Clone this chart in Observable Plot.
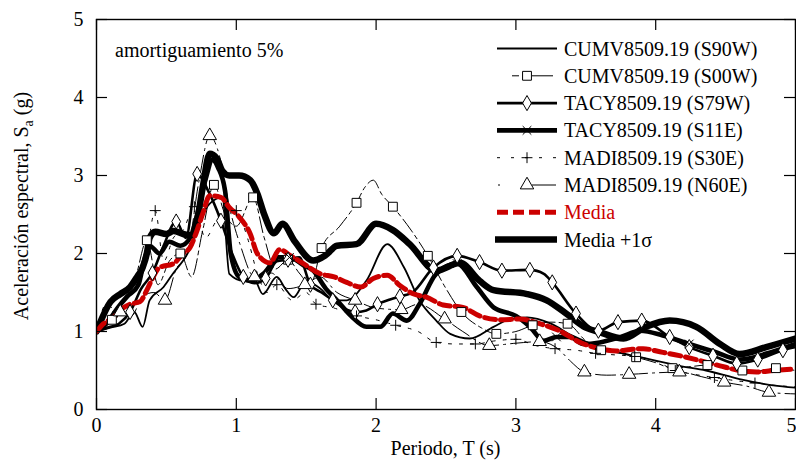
<!DOCTYPE html>
<html><head><meta charset="utf-8">
<script src="https://cdn.jsdelivr.net/npm/d3@7"></script>
<script src="https://cdn.jsdelivr.net/npm/@observablehq/plot@0.6"></script>
<style>
html,body{margin:0;padding:0;background:#fff;}
#chart{width:796px;height:461px;overflow:hidden;}
</style></head><body><div id="chart"></div>
<script>
// ---------------- data ----------------
const xTicks = [0, 1, 2, 3, 4, 5];
const yTicks = [0, 1, 2, 3, 4, 5];
const seriesNames = ["CUMV8509.19 (S90W)", "CUMV8509.19 (S00W)", "TACY8509.19 (S79W)", "TACY8509.19 (S11E)",
  "MADI8509.19 (S30E)", "MADI8509.19 (N60E)", "Media", "Media +1σ"];
const annotation = "amortiguamiento 5%";
const xLabel = "Periodo, T (s)";

const T_S90W = [0, 0.1, 0.2, 0.27, 0.33, 0.38, 0.48, 0.55, 0.62, 0.68, 0.74, 0.81, 0.9, 0.95, 1.05, 1.12, 1.19, 1.29, 1.35, 1.41, 1.5, 1.6, 1.7, 1.79, 1.93, 2.08, 2.2, 2.31, 2.43, 2.53, 2.67, 2.84, 2.96, 3.08, 3.25, 3.4, 3.6, 3.89, 4.17, 4.36, 4.6, 4.84, 5.0];
const SA_S90W = [1.0, 1.05, 1.1, 1.25, 1.06, 1.4, 1.57, 1.75, 1.91, 2.1, 2.42, 2.64, 2.72, 1.74, 1.65, 1.7, 1.48, 1.7, 1.55, 1.44, 1.65, 1.55, 1.4, 1.4, 1.65, 2.12, 1.82, 1.4, 1.14, 0.97, 0.91, 1.06, 1.16, 1.18, 1.1, 0.95, 0.8, 0.67, 0.56, 0.5, 0.39, 0.31, 0.28];

const T_S00W = [0, 0.05, 0.11, 0.2, 0.28, 0.36, 0.44, 0.52, 0.6, 0.68, 0.76, 0.84, 0.92, 1.0, 1.12, 1.2, 1.28, 1.37, 1.45, 1.53, 1.61, 1.74, 1.86, 1.92, 1.98, 2.04, 2.12, 2.25, 2.37, 2.5, 2.61, 2.75, 2.86, 3.0, 3.12, 3.25, 3.37, 3.5, 3.61, 3.75, 3.86, 4.0, 4.12, 4.25, 4.37, 4.5, 4.62, 4.75, 4.86, 5.0];
const SA_S00W = [1.0, 1.05, 1.15, 1.4, 1.7, 2.17, 1.6, 1.9, 2.0, 1.7, 2.3, 2.88, 2.5, 2.35, 2.72, 2.2, 1.8, 1.92, 1.75, 1.6, 2.07, 2.35, 2.65, 2.85, 2.94, 2.76, 2.6, 2.3, 1.97, 1.55, 1.25, 1.05, 0.97, 1.0, 1.08, 1.12, 1.1, 0.88, 0.76, 0.72, 0.67, 0.6, 0.53, 0.55, 0.57, 0.53, 0.5, 0.5, 0.53, 0.5];
const MK_S00W = [0.11, 0.36, 0.6, 0.84, 1.12, 1.37, 1.61, 1.86, 2.12, 2.37, 2.61, 2.86, 3.12, 3.37, 3.61, 3.86, 4.12, 4.37, 4.62, 4.86];

const T_S79W = [0, 0.08, 0.16, 0.24, 0.32, 0.40, 0.48, 0.57, 0.64, 0.72, 0.8, 0.89, 0.97, 1.05, 1.13, 1.21, 1.29, 1.37, 1.45, 1.53, 1.61, 1.69, 1.77, 1.85, 1.93, 2.01, 2.1, 2.17, 2.26, 2.41, 2.58, 2.74, 2.9, 3.1, 3.2, 3.26, 3.43, 3.59, 3.73, 3.9, 4.1, 4.24, 4.41, 4.58, 4.73, 4.91, 5.0];
const SA_S79W = [1.0, 1.05, 1.1, 1.25, 1.55, 1.75, 2.1, 2.41, 2.2, 3.02, 2.8, 2.42, 2.0, 1.7, 1.62, 1.68, 1.9, 1.92, 1.95, 1.6, 1.5, 1.4, 1.3, 1.25, 1.27, 1.35, 1.41, 1.45, 1.5, 1.82, 1.97, 1.89, 1.78, 1.79, 1.74, 1.63, 1.23, 1.01, 1.12, 1.14, 0.93, 0.8, 0.69, 0.59, 0.64, 0.76, 0.8];
const MK_S79W = [0.24, 0.40, 0.57, 0.72, 0.89, 1.05, 1.21, 1.37, 1.53, 1.69, 1.85, 2.01, 2.17, 2.41, 2.58, 2.74, 2.9, 3.1, 3.26, 3.43, 3.59, 3.73, 3.9, 4.1, 4.24, 4.41, 4.58, 4.73, 4.91];

const T_S11E = [0, 0.08, 0.15, 0.22, 0.3, 0.34, 0.38, 0.45, 0.52, 0.6, 0.67, 0.72, 0.78, 0.83, 0.87, 0.92, 0.96, 1.02, 1.1, 1.2, 1.3, 1.38, 1.48, 1.55, 1.64, 1.72, 1.82, 1.93, 2.03, 2.12, 2.22, 2.31, 2.43, 2.58, 2.72, 2.84, 3.0, 3.1, 3.2, 3.29, 3.39, 3.48, 3.6, 3.75, 3.89, 4.05, 4.24, 4.42, 4.6, 4.8, 5.0];
const SA_S11E = [1.0, 1.12, 1.3, 1.45, 1.6, 1.9, 2.1, 2.0, 2.15, 2.1, 2.2, 2.5, 2.95, 3.2, 3.1, 2.8, 2.0, 1.7, 1.65, 1.75, 1.95, 1.95, 1.85, 1.78, 1.55, 1.4, 1.2, 1.06, 1.06, 1.23, 1.14, 1.35, 1.74, 1.87, 1.57, 1.31, 1.2, 1.06, 0.88, 0.93, 0.93, 0.84, 0.86, 0.93, 1.01, 0.95, 0.84, 0.74, 0.64, 0.72, 0.84];
const MK_S11E = [0.83, 1.38, 2.58, 3.29, 4.24];

const T_S30E = [0, 0.07, 0.15, 0.22, 0.28, 0.35, 0.42, 0.48, 0.55, 0.62, 0.7, 0.78, 0.85, 0.92, 1.0, 1.08, 1.15, 1.22, 1.29, 1.4, 1.5, 1.57, 1.7, 1.86, 2.0, 2.14, 2.3, 2.43, 2.57, 2.71, 2.85, 3.0, 3.14, 3.28, 3.43, 3.57, 3.71, 3.85, 4.0, 4.14, 4.28, 4.42, 4.57, 4.71, 4.85, 5.0];
const SA_S30E = [1.0, 1.35, 1.25, 1.5, 1.6, 1.9, 2.55, 1.9, 2.2, 2.3, 2.6, 2.2, 2.4, 2.6, 2.55, 2.2, 1.75, 1.5, 1.6, 1.4, 1.5, 1.35, 1.3, 1.2, 1.15, 1.08, 1.0, 0.86, 0.84, 0.84, 0.88, 0.9, 0.82, 0.78, 0.76, 0.72, 0.7, 0.68, 0.62, 0.5, 0.45, 0.41, 0.37, 0.34, 0.31, 0.29];
const MK_S30E = [0.15, 0.42, 0.7, 1.0, 1.29, 1.57, 1.86, 2.14, 2.43, 2.71, 3.0, 3.28, 3.57, 3.85, 4.14, 4.42, 4.71];

const T_N60E = [0, 0.08, 0.17, 0.25, 0.33, 0.41, 0.49, 0.57, 0.65, 0.73, 0.81, 0.88, 0.95, 1.03, 1.13, 1.25, 1.37, 1.49, 1.6, 1.72, 1.85, 2.0, 2.18, 2.3, 2.49, 2.62, 2.81, 3.0, 3.17, 3.3, 3.39, 3.49, 3.65, 3.81, 4.0, 4.17, 4.33, 4.49, 4.65, 4.81, 5.0];
const SA_N60E = [1.0, 1.1, 1.25, 1.2, 1.45, 1.5, 1.4, 1.8, 2.0, 2.9, 3.51, 3.25, 2.6, 2.1, 1.7, 1.75, 1.55, 1.6, 1.7, 1.5, 1.4, 1.3, 1.28, 1.35, 1.16, 1.0, 0.82, 0.85, 0.87, 0.78, 0.62, 0.48, 0.44, 0.45, 0.47, 0.48, 0.42, 0.35, 0.3, 0.22, 0.2];
const MK_N60E = [0.17, 0.49, 0.81, 1.13, 1.49, 1.85, 2.18, 2.49, 2.81, 3.17, 3.49, 3.81, 4.17, 4.49, 4.81];

const T_MEDIA = [0, 0.05, 0.12, 0.19, 0.24, 0.31, 0.36, 0.4, 0.45, 0.55, 0.62, 0.67, 0.71, 0.76, 0.81, 0.89, 0.95, 1.02, 1.1, 1.15, 1.24, 1.31, 1.39, 1.48, 1.6, 1.7, 1.79, 1.89, 1.98, 2.08, 2.17, 2.27, 2.36, 2.48, 2.62, 2.74, 2.89, 3.03, 3.17, 3.31, 3.46, 3.6, 3.72, 3.82, 3.91, 4.03, 4.17, 4.31, 4.46, 4.6, 4.72, 4.84, 5.0];
const SA_MEDIA = [1.0, 1.1, 1.18, 1.3, 1.35, 1.38, 1.53, 1.68, 1.82, 1.87, 2.0, 2.08, 2.25, 2.51, 2.74, 2.72, 2.59, 2.47, 2.25, 2.0, 1.88, 2.05, 1.97, 1.87, 1.74, 1.7, 1.63, 1.57, 1.68, 1.72, 1.59, 1.48, 1.44, 1.34, 1.31, 1.2, 1.15, 1.16, 1.1, 1.01, 0.86, 0.78, 0.75, 0.77, 0.78, 0.74, 0.69, 0.63, 0.56, 0.5, 0.48, 0.5, 0.52];

const T_SIGMA = [0, 0.1, 0.17, 0.24, 0.29, 0.33, 0.36, 0.38, 0.42, 0.5, 0.55, 0.62, 0.69, 0.72, 0.76, 0.81, 0.86, 0.9, 0.95, 1.02, 1.1, 1.15, 1.2, 1.27, 1.33, 1.42, 1.55, 1.64, 1.72, 1.86, 2.0, 2.12, 2.24, 2.43, 2.6, 2.74, 2.84, 3.08, 3.22, 3.36, 3.5, 3.6, 3.77, 3.93, 4.1, 4.29, 4.46, 4.6, 4.79, 5.0];
const SA_SIGMA = [1.0, 1.38, 1.48, 1.57, 1.7, 1.82, 2.0, 2.2, 2.28, 2.25, 2.29, 2.25, 2.23, 2.42, 2.85, 3.28, 3.22, 3.06, 3.0, 3.0, 2.94, 2.77, 2.5, 2.26, 2.38, 2.15, 1.91, 1.98, 2.1, 2.12, 2.38, 2.3, 2.12, 1.78, 1.88, 1.65, 1.53, 1.48, 1.4, 1.23, 1.05, 0.99, 0.91, 1.06, 1.14, 1.06, 0.84, 0.71, 0.8, 0.91];

// ---------------- styling ----------------
const RED = "#cc0000";
const FONT = "'Liberation Serif', 'Times New Roman', serif";
const cfg = [
  {T: T_S90W, S: SA_S90W, mk: [], stroke: "#000", sw: 1.8, dash: null, sym: null},
  {T: T_S00W, S: SA_S00W, mk: MK_S00W, stroke: "#000", sw: 1, dash: "16,4,4,4", sym: "square", r: 5},
  {T: T_S79W, S: SA_S79W, mk: MK_S79W, stroke: "#000", sw: 2.6, dash: null, sym: "diamond", r: 4.6},
  {T: T_S11E, S: SA_S11E, mk: MK_S11E, stroke: "#000", sw: 4.6, dash: null, sym: "times", r: 4},
  {T: T_S30E, S: SA_S30E, mk: MK_S30E, stroke: "#000", sw: 1, dash: "3,8", sym: "plus", r: 3.6},
  {T: T_N60E, S: SA_N60E, mk: MK_N60E, stroke: "#000", sw: 1, dash: "20,5,2,5", sym: "triangle", r: 5},
  {T: T_SIGMA, S: SA_SIGMA, mk: [], stroke: "#000", sw: 6.5, dash: null, sym: null},
  {T: T_MEDIA, S: SA_MEDIA, mk: [], stroke: RED, sw: 5, dash: "11,5", sym: null}
];

const W = 796, H = 461, mL = 96, mR = 1, mT = 19, mB = 52;
const innerW = W - mL - mR, innerH = H - mT - mB;
const tick = 11;

const marks = [];
for (const c of cfg) {
  const rows = c.T.map((t, i) => ({T: t, Sa: c.S[i]}));
  marks.push(Plot.line(rows, {x: "T", y: "Sa", stroke: c.stroke, strokeWidth: c.sw,
    strokeDasharray: c.dash, curve: "monotone-x", clip: true, strokeLinejoin: "round"}));
}
for (const c of cfg) {
  if (!c.sym) continue;
  const pts = c.mk.map(t => { let bi = 0; c.T.forEach((v, i) => { if (Math.abs(v - t) < Math.abs(c.T[bi] - t)) bi = i; }); return {T: c.T[bi], Sa: c.S[bi]}; });
  const filled = c.sym === "square" || c.sym === "diamond" || c.sym === "triangle";
  marks.push(Plot.dot(pts, {x: "T", y: "Sa", symbol: c.sym, r: c.r, stroke: "#000", strokeWidth: 1,
    fill: filled ? "#fff" : "none"}));
}

const chart = Plot.plot({
  width: W, height: H,
  marginLeft: mL, marginRight: mR, marginTop: mT, marginBottom: mB,
  x: {domain: [0, 5]},
  y: {domain: [0, 5]},
  style: {fontFamily: FONT, fontSize: "20px", background: "#fff", color: "#000"},
  marks: [
    ...marks,
    Plot.frame({stroke: "#000", strokeWidth: 1.4}),
    Plot.tickX(xTicks, {x: d => d, insetTop: innerH - tick, stroke: "#000", strokeWidth: 1.2}),
    Plot.tickX(xTicks, {x: d => d, insetBottom: innerH - tick, stroke: "#000", strokeWidth: 1.2}),
    Plot.tickY(yTicks, {y: d => d, insetRight: innerW - tick, stroke: "#000", strokeWidth: 1.2}),
    Plot.tickY(yTicks, {y: d => d, insetLeft: innerW - tick, stroke: "#000", strokeWidth: 1.2}),
    Plot.axisX(xTicks.slice(0, -1), {tickSize: 0, tickPadding: 8, label: null, fontSize: 20, tickFormat: d => String(d)}),
    Plot.axisX(xTicks.slice(-1), {tickSize: 0, tickPadding: 8, label: null, fontSize: 20, tickFormat: d => String(d), textAnchor: "end", dx: 1}),
    Plot.axisY(yTicks, {tickSize: 0, tickPadding: 13, label: null, fontSize: 20, tickFormat: d => String(d)})
  ]
});
document.getElementById("chart").appendChild(chart);

// ---------------- labels, annotation and legend ----------------
const svg = d3.select(chart);
const g = svg.append("g").attr("font-family", FONT).attr("font-size", 20).attr("text-anchor", "start").attr("fill", "#000");
g.append("text").attr("x", 115).attr("y", 57).text(annotation);
g.append("text").attr("x", mL + innerW / 2).attr("y", 455).attr("text-anchor", "middle").text(xLabel);
const yl = g.append("text").attr("transform", "translate(28,206) rotate(-90)").attr("text-anchor", "middle");
yl.append("tspan").text("Aceleración espectral, S");
yl.append("tspan").attr("font-size", 14).attr("dy", 5).text("a");
yl.append("tspan").attr("dy", -5).text(" (g)");

const lx0 = 497, lx1 = 557, lmid = 527, ltx = 564, ly0 = 48.5, ldy = 27.3;
const sym = d3.symbol();
const symMap = {square: d3.symbolSquare, diamond: d3.symbolDiamond, times: d3.symbolTimes, plus: d3.symbolPlus, triangle: d3.symbolTriangle};
seriesNames.forEach((name, i) => {
  const c = i === 6 ? cfg[7] : i === 7 ? cfg[6] : cfg[i];
  const y = ly0 + i * ldy;
  const lg = g.append("g");
  if (i === 1) {
    lg.append("line").attr("x1", 512).attr("x2", 519).attr("y1", y).attr("y2", y).attr("stroke", "#000").attr("stroke-width", 1);
    lg.append("line").attr("x1", 532).attr("x2", 553).attr("y1", y).attr("y2", y).attr("stroke", "#000").attr("stroke-width", 1);
  } else if (i === 4) {
    lg.append("line").attr("x1", lx0).attr("x2", lx1).attr("y1", y).attr("y2", y).attr("stroke", "#000").attr("stroke-width", 1).attr("stroke-dasharray", "3,11");
  } else if (i === 5) {
    lg.append("line").attr("x1", 498).attr("x2", 500).attr("y1", y).attr("y2", y).attr("stroke", "#000").attr("stroke-width", 1);
    lg.append("line").attr("x1", 532).attr("x2", 556).attr("y1", y).attr("y2", y).attr("stroke", "#000").attr("stroke-width", 1);
  } else {
    lg.append("line").attr("x1", i === 7 ? 495 : lx0).attr("x2", lx1).attr("y1", y).attr("y2", y)
      .attr("stroke", c.stroke).attr("stroke-width", c.sw).attr("stroke-dasharray", c.dash);
  }
  if (c.sym) {
    const filled = c.sym === "square" || c.sym === "diamond" || c.sym === "triangle";
    lg.append("path").attr("transform", `translate(${lmid},${y})`)
      .attr("d", sym.type(symMap[c.sym]).size(c.r * c.r * Math.PI)())
      .attr("fill", filled ? "#fff" : "none").attr("stroke", "#000").attr("stroke-width", 1);
  }
  lg.append("text").attr("x", ltx).attr("y", y + 7).attr("fill", i === 6 ? RED : "#000").text(name);
});
</script></body></html>
